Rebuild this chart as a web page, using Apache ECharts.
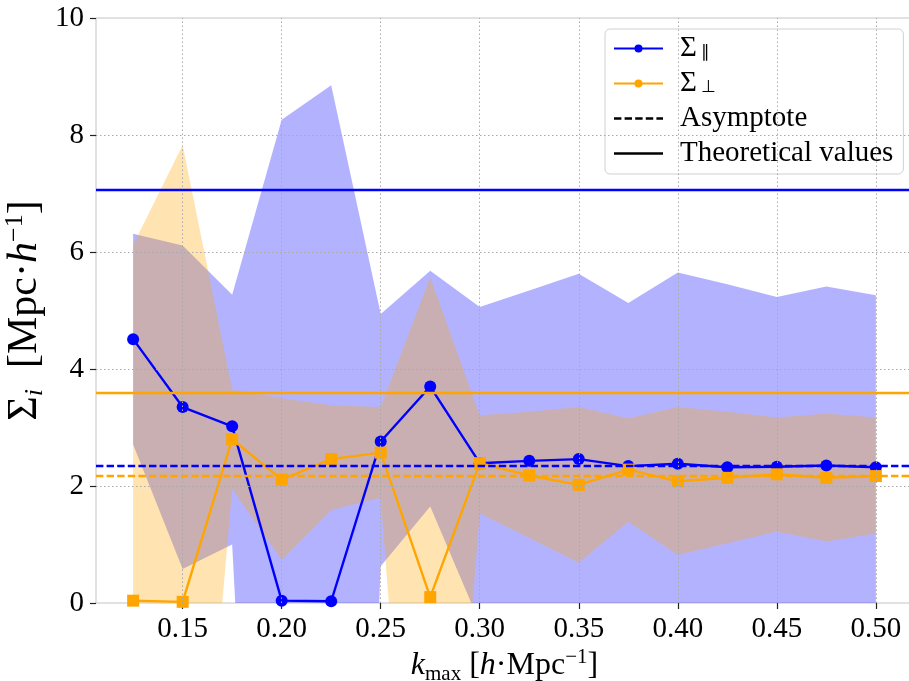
<!DOCTYPE html>
<html>
<head>
<meta charset="utf-8">
<script src="https://cdn.jsdelivr.net/npm/echarts@6/dist/echarts.min.js"></script>
<style>
  html, body { margin: 0; padding: 0; background: #fff; }
  #chart { width: 909px; height: 681px; }
</style>
</head>
<body>
<div id="chart"></div>
<script>
  // k_max values (h/Mpc)
  var kmax = [0.125, 0.15, 0.175, 0.2, 0.225, 0.25, 0.275, 0.3, 0.325, 0.35, 0.375, 0.4, 0.425, 0.45, 0.475, 0.5];

  // Sigma_par and its band
  var sigPar   = [4.51, 3.35, 3.02, 0.04, 0.03, 2.76, 3.70, 2.39, 2.43, 2.46, 2.34, 2.38, 2.32, 2.33, 2.35, 2.32];
  var sigParHi = [6.31, 6.11, 5.27, 8.26, 8.85, 4.94, 5.68, 5.06, 5.34, 5.63, 5.13, 5.65, 5.45, 5.23, 5.41, 5.26];
  var sigParLo = [2.71, 0.58, 1.00, -15.0, -20.0, 0.63, 1.65, -0.34, -0.48, -0.71, -0.45, -0.89, -0.81, -0.57, -0.71, -0.62];

  // Sigma_perp and its band
  var sigPerp   = [0.04, 0.02, 2.80, 2.11, 2.46, 2.57, 0.10, 2.39, 2.18, 2.02, 2.28, 2.08, 2.14, 2.20, 2.14, 2.17];
  var sigPerpHi = [6.12, 7.83, 3.65, 3.50, 3.38, 3.35, 5.57, 3.21, 3.27, 3.35, 3.16, 3.35, 3.27, 3.17, 3.24, 3.17];
  var sigPerpLo = [-6.06, -7.79, 1.95, 0.74, 1.59, 1.80, -9.20, 1.53, 1.11, 0.69, 1.39, 0.82, 1.02, 1.22, 1.05, 1.19];

  // horizontal reference lines
  var asymPar = 2.34, asymPerp = 2.17;
  var theoPar = 7.07, theoPerp = 3.60;

  // ticks
  var xTicks = [0.15, 0.20, 0.25, 0.30, 0.35, 0.40, 0.45, 0.50];
  var yTicks = [0, 2, 4, 6, 8, 10];

  var BLUE = '#0000ff', ORANGE = '#ffa500';
  var FONT = 'Liberation Serif';

  var pairs = function (ys) {
    return kmax.map(function (k, i) { return [k, ys[i]]; });
  };

  // filled band between lo and hi, drawn as one polygon through the axes
  var band = function (lo, hi, color) {
    return {
      type: 'custom', clip: true, silent: true,
      data: kmax.map(function (k, i) { return [k, lo[i], hi[i]]; }),
      encode: { x: 0, y: [1, 2] },
      renderItem: function (params, api) {
        if (params.dataIndex !== 0) return;
        var top = [], bottom = [];
        for (var i = 0; i < kmax.length; i++) {
          top.push(api.coord([kmax[i], hi[i]]));
          bottom.unshift(api.coord([kmax[i], lo[i]]));
        }
        return {
          type: 'polygon',
          shape: { points: top.concat(bottom) },
          style: { fill: color }
        };
      }
    };
  };

  var gridLines = [];
  xTicks.forEach(function (v) { gridLines.push({ xAxis: v }); });
  yTicks.forEach(function (v) { if (v > 0 && v < 10) gridLines.push({ yAxis: v }); });

  var legendNames = {
    par: '{m|Σ}{sub|∥}',
    perp: '{m|Σ}{sub|⊥}',
    asym: '{t|Asymptote}',
    theo: '{t|Theoretical values}'
  };

  var option = {
    animation: false,
    grid: {
      left: 96, right: -4, top: 18, bottom: 78,
      outerBoundsMode: 'none',
      show: true, borderColor: '#c4c4c4', borderWidth: 1
    },
    xAxis: {
      type: 'value', min: 0.10625, max: 0.51875,
      name: '{k|k}{sub|max}{m| [}{k|h}{m|·Mpc}{sup|−1}{m|]}',
      nameLocation: 'middle', nameGap: 44, nameMoveOverlap: false,
      nameTextStyle: {
        fontFamily: FONT, color: '#000',
        rich: {
          m: { fontFamily: FONT, fontSize: 32, lineHeight: 38, verticalAlign: 'middle' },
          k: { fontFamily: FONT, fontSize: 32, fontStyle: 'italic', lineHeight: 38, verticalAlign: 'middle' },
          sub: { fontFamily: FONT, fontSize: 21, lineHeight: 21, verticalAlign: 'bottom' },
          sup: { fontFamily: FONT, fontSize: 21, lineHeight: 21, verticalAlign: 'top' }
        }
      },
      axisLine: { show: false },
      axisTick: { show: true, length: 6, customValues: xTicks, lineStyle: { color: '#222', width: 1.2 } },
      axisLabel: {
        customValues: xTicks, margin: 12, color: '#000', fontFamily: FONT, fontSize: 29,
        formatter: function (v) { return v.toFixed(2); }
      },
      splitLine: { show: false }
    },
    yAxis: {
      type: 'value', min: 0, max: 10, interval: 2,
      name: '{m|Σ}{sub|i}{m|  [Mpc·}{k|h}{sup|−1}{m|]}',
      nameLocation: 'middle', nameRotate: 90, nameGap: 48, nameMoveOverlap: false,
      nameTextStyle: {
        fontFamily: FONT, color: '#000',
        rich: {
          m: { fontFamily: FONT, fontSize: 42, lineHeight: 46, verticalAlign: 'middle' },
          k: { fontFamily: FONT, fontSize: 42, fontStyle: 'italic', lineHeight: 46, verticalAlign: 'middle' },
          sub: { fontFamily: FONT, fontSize: 26, fontStyle: 'italic', lineHeight: 26, verticalAlign: 'bottom' },
          sup: { fontFamily: FONT, fontSize: 26, lineHeight: 26, verticalAlign: 'top' }
        }
      },
      axisLine: { show: false },
      axisTick: { show: true, length: 6, lineStyle: { color: '#222', width: 1.2 } },
      axisLabel: { margin: 12, color: '#000', fontFamily: FONT, fontSize: 29 },
      splitLine: { show: false }
    },
    legend: {
      orient: 'vertical', left: 605, top: 29,
      data: [
        { name: 'par' },
        { name: 'perp' },
        { name: 'asym', icon: 'path://M0,0h7.4v2.4h-7.4z M10.6,0h7.4v2.4h-7.4z M21.2,0h7.4v2.4h-7.4z M31.8,0h7.4v2.4h-7.4z M42.4,0h6.6v2.4h-6.6z' },
        { name: 'theo', icon: 'path://M0,0h49v2.4h-49z' }
      ],
      itemWidth: 49, itemHeight: 10, itemGap: 6,
      padding: [5, 10, 6, 8],
      backgroundColor: 'rgba(255,255,255,0.85)',
      borderColor: '#d0d0d0', borderWidth: 1, borderRadius: 5,
      formatter: function (n) { return legendNames[n]; },
      textStyle: {
        fontFamily: FONT, color: '#000', fontSize: 29, lineHeight: 26,
        rich: {
          m: { fontFamily: FONT, fontSize: 29, padding: [0, 0, 0, 12], lineHeight: 26 },
          t: { fontFamily: FONT, fontSize: 29, padding: [0, 0, 0, 12], lineHeight: 26 },
          sub: { fontFamily: FONT, fontSize: 17, lineHeight: 12, verticalAlign: 'bottom', padding: [0, 0, 0, 4] }
        }
      }
    },
    series: [
      band(sigParLo, sigParHi, 'rgba(0,0,255,0.3)'),
      band(sigPerpLo, sigPerpHi, 'rgba(255,165,0,0.3)'),
      {
        name: 'grid', type: 'line', data: [], silent: true,
        markLine: {
          silent: true, symbol: 'none', label: { show: false },
          lineStyle: { color: '#a8a8a8', width: 1, type: [1.5, 2.5] },
          data: gridLines
        }
      },
      {
        name: 'parPts', type: 'line', data: pairs(sigPar),
        symbol: 'circle', symbolSize: 12,
        lineStyle: { color: BLUE, width: 2.4 }, itemStyle: { color: BLUE },
        markLine: {
          silent: true, symbol: 'none', label: { show: false },
          data: [
            { yAxis: theoPar, lineStyle: { color: BLUE, width: 2.4, type: 'solid' } },
            { yAxis: asymPar, lineStyle: { color: BLUE, width: 2.4, type: [7.4, 3.2] } }
          ]
        }
      },
      {
        name: 'perpPts', type: 'line', data: pairs(sigPerp),
        symbol: 'rect', symbolSize: 12,
        lineStyle: { color: ORANGE, width: 2.4 }, itemStyle: { color: ORANGE },
        markLine: {
          silent: true, symbol: 'none', label: { show: false },
          data: [
            { yAxis: theoPerp, lineStyle: { color: ORANGE, width: 2.4, type: 'solid' } },
            { yAxis: asymPerp, lineStyle: { color: ORANGE, width: 2.4, type: [7.4, 3.2] } }
          ]
        }
      },
      // legend-only entries
      { name: 'par', type: 'line', data: [], symbol: 'circle', symbolSize: 8,
        lineStyle: { color: BLUE, width: 2.4 }, itemStyle: { color: BLUE } },
      { name: 'perp', type: 'line', data: [], symbol: 'circle', symbolSize: 8,
        lineStyle: { color: ORANGE, width: 2.4 }, itemStyle: { color: ORANGE } },
      { name: 'asym', type: 'line', data: [], symbol: 'none',
        lineStyle: { color: '#000', width: 2.4 }, itemStyle: { color: '#000' } },
      { name: 'theo', type: 'line', data: [], symbol: 'none',
        lineStyle: { color: '#000', width: 2.4 }, itemStyle: { color: '#000' } }
    ]
  };

  var myChart = echarts.init(document.getElementById('chart'));
  myChart.setOption(option);
</script>
</body>
</html>
